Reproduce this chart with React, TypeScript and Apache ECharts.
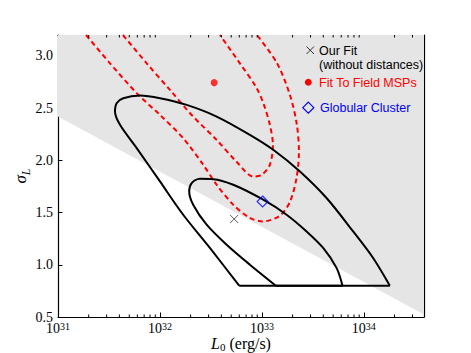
import React, { useEffect, useRef } from "react";
import * as echarts from "echarts";

// axis extents (log10 of L0 in erg/s, and sigma_L)
const X_MIN = 31;
const X_MAX = 34.59;
const Y_MIN = 0.5;
const Y_MAX = 3.2;
const xMajorExponents = [31, 32, 33, 34];
const yTickValues = [0.5, 1.0, 1.5, 2.0, 2.5, 3.0];

// shaded (excluded) region boundary
const shadeLogL = [31, 34.59];
const shadeSigma = [2.42, 0.525];

// black contours ("Our Fit")
const outerBlackLogL = [32.777, 32.49, 32.228, 32.0, 31.772, 31.608, 31.559, 31.575, 31.64, 31.804, 32.0, 32.262, 32.556, 32.882, 33.111, 33.373, 33.634, 33.895, 34.091, 34.255];
const outerBlackSigma = [0.8, 1.161, 1.479, 1.798, 2.117, 2.34, 2.467, 2.547, 2.595, 2.62, 2.595, 2.531, 2.419, 2.244, 2.101, 1.893, 1.639, 1.319, 1.065, 0.8];
const innerBlackLogL = [33.137, 32.882, 32.654, 32.458, 32.326, 32.287, 32.311, 32.392, 32.523, 32.719, 33.013, 33.242, 33.438, 33.601, 33.732, 33.791];
const innerBlackSigma = [0.8, 1.001, 1.192, 1.384, 1.575, 1.702, 1.782, 1.823, 1.82, 1.766, 1.623, 1.479, 1.319, 1.161, 0.97, 0.8];

// red dashed contours ("Fit To Field MSPs")
const outerRedLogL = [31.275, 31.51, 31.772, 32.0, 32.228, 32.425, 32.556, 32.719, 32.882, 33.01, 33.176, 33.275, 33.34, 33.363, 33.343, 33.275, 33.147, 32.951];
const outerRedSigma = [3.2, 2.929, 2.643, 2.435, 2.212, 1.957, 1.766, 1.575, 1.448, 1.415, 1.47, 1.603, 1.833, 2.081, 2.34, 2.626, 2.932, 3.2];
const innerRedLogL = [31.637, 31.87, 32.098, 32.326, 32.556, 32.752, 32.915, 33.0, 33.078, 33.108, 33.078, 33.02, 32.948, 32.784, 32.588];
const innerRedSigma = [3.2, 2.929, 2.674, 2.419, 2.196, 1.986, 1.845, 1.862, 1.957, 2.148, 2.34, 2.531, 2.693, 2.929, 3.2];

// best-fit points
const ourFitPoint = [32.728, 1.438];
const fieldMspPoint = [32.532, 2.744];
const globularPoint = [33.007, 1.606];

const zip = (a: number[], b: number[]) => a.map((v, i) => [v, b[i]]);

const minorTicks: number[] = [];
for (const n of xMajorExponents) {
  for (let k = 2; k <= 9; k++) {
    const v = n + Math.log10(k);
    if (v < X_MAX) minorTicks.push(v);
  }
}

const SERIF = '"Liberation Serif", "Times New Roman", serif';
const SANS = '"Liberation Sans", Arial, sans-serif';

export default function App() {
  const ref = useRef<HTMLDivElement>(null);
  useEffect(() => {
    if (!ref.current) return;
    const chart = echarts.init(ref.current, undefined, { renderer: "svg" });
    const axisLine = { show: true, lineStyle: { color: "#000", width: 1.2 } };
    const axisTick = { show: true, inside: true, length: 4.5, lineStyle: { color: "#000", width: 1 } };
    const option: any = {
      animation: false,
      backgroundColor: "#fff",
      grid: { left: 58, right: 47, top: 35, bottom: 36, containLabel: false, outerBoundsMode: "none" },
      xAxis: [
        {
          type: "value",
          position: "bottom",
          min: X_MIN,
          max: X_MAX,
          interval: 1,
          axisLine,
          axisTick,
          splitLine: { show: false },
          axisLabel: {
            margin: 4,
            color: "#000",
            formatter: (v: number) => (Number.isInteger(v) ? `{b|10}{s|${v}}` : ""),
            rich: {
              b: { fontFamily: SERIF, fontSize: 14, color: "#000", lineHeight: 14, verticalAlign: "bottom" },
              s: { fontFamily: SERIF, fontSize: 10, color: "#000", lineHeight: 10, verticalAlign: "top" },
            },
          },
          name: "{i|L}{sub|0}{r| (erg/s)}",
          nameLocation: "middle",
          nameGap: 18,
          nameMoveOverlap: false,
          nameTextStyle: {
            rich: {
              i: { fontFamily: SERIF, fontStyle: "italic", fontSize: 16, color: "#000", lineHeight: 17, verticalAlign: "top" },
              sub: { fontFamily: SERIF, fontSize: 11, color: "#000", lineHeight: 11, verticalAlign: "bottom" },
              r: { fontFamily: SERIF, fontSize: 16, color: "#000", lineHeight: 17, verticalAlign: "top" },
            },
          },
        },
        {
          type: "value",
          position: "top",
          min: X_MIN,
          max: X_MAX,
          interval: 1,
          axisLine,
          axisTick,
          axisLabel: { show: false },
          splitLine: { show: false },
        },
      ],
      yAxis: [
        {
          type: "value",
          position: "left",
          min: Y_MIN,
          max: Y_MAX,
          interval: 0.5,
          axisLine,
          axisTick,
          splitLine: { show: false },
          axisLabel: {
            margin: 5,
            color: "#000",
            fontFamily: SERIF,
            fontSize: 14,
            lineHeight: 8,
            formatter: (v: number) =>
              yTickValues.some((t) => Math.abs(t - v) < 1e-6) ? v.toFixed(1) : "",
          },
          name: "{i|σ}{sub|L}",
          nameLocation: "middle",
          nameGap: 26,
          nameRotate: 90,
          nameMoveOverlap: false,
          nameTextStyle: {
            rich: {
              i: { fontFamily: SERIF, fontStyle: "italic", fontSize: 17, color: "#000", lineHeight: 20, verticalAlign: "top" },
              sub: { fontFamily: SERIF, fontStyle: "italic", fontSize: 12, color: "#000", lineHeight: 12, verticalAlign: "bottom" },
            },
          },
        },
        {
          type: "value",
          position: "right",
          min: Y_MIN,
          max: Y_MAX,
          interval: 0.5,
          axisLine,
          axisTick,
          axisLabel: { show: false },
          splitLine: { show: false },
        },
      ],
      series: [
        {
          name: "excluded",
          type: "line",
          data: zip(shadeLogL, shadeSigma),
          showSymbol: false,
          silent: true,
          lineStyle: { width: 0, color: "#e5e5e5" },
          areaStyle: { color: "#e5e5e5", opacity: 1, origin: "end" },
          z: 1,
        },
        {
          type: "custom",
          silent: true,
          clip: false,
          data: minorTicks.map((v) => [v, Y_MIN]),
          encode: { x: 0, y: 1 },
          renderItem: (params: any, api: any) => {
            const v = api.value(0);
            const b = api.coord([v, Y_MIN]);
            const t = api.coord([v, Y_MAX]);
            return {
              type: "group",
              children: [
                { type: "line", shape: { x1: b[0], y1: b[1], x2: b[0], y2: b[1] - 2.5 }, style: { stroke: "#000", lineWidth: 1 } },
                { type: "line", shape: { x1: t[0], y1: t[1], x2: t[0], y2: t[1] + 2.5 }, style: { stroke: "#000", lineWidth: 1 } },
              ],
            };
          },
          z: 5,
        },
        {
          name: "outerRed",
          type: "line",
          data: zip(outerRedLogL, outerRedSigma),
          showSymbol: false,
          smooth: 0.3,
          lineStyle: { color: "#ff0000", width: 2, type: [5, 3.5] },
          z: 3,
        },
        {
          name: "innerRed",
          type: "line",
          data: zip(innerRedLogL, innerRedSigma),
          showSymbol: false,
          smooth: 0.3,
          lineStyle: { color: "#ff0000", width: 2, type: [5, 3.5] },
          z: 3,
        },
        {
          name: "outerBlack",
          type: "line",
          data: zip(outerBlackLogL, outerBlackSigma),
          showSymbol: false,
          smooth: 0.3,
          lineStyle: { color: "#000", width: 2 },
          z: 4,
        },
        {
          name: "outerBlackBase",
          type: "line",
          data: [
            [outerBlackLogL[0], outerBlackSigma[0]],
            [outerBlackLogL[outerBlackLogL.length - 1], outerBlackSigma[outerBlackSigma.length - 1]],
          ],
          showSymbol: false,
          lineStyle: { color: "#000", width: 2 },
          z: 4,
        },
        {
          name: "innerBlack",
          type: "line",
          data: zip(innerBlackLogL, innerBlackSigma),
          showSymbol: false,
          smooth: 0.3,
          lineStyle: { color: "#000", width: 2 },
          z: 4,
        },
        {
          name: "innerBlackBase",
          type: "line",
          data: [
            [innerBlackLogL[0], innerBlackSigma[0]],
            [innerBlackLogL[innerBlackLogL.length - 1], innerBlackSigma[innerBlackSigma.length - 1]],
          ],
          showSymbol: false,
          lineStyle: { color: "#000", width: 2 },
          z: 4,
        },
        {
          name: "Our Fit (without distances)",
          type: "scatter",
          data: [ourFitPoint],
          symbol: "path://M0 0L10 10M10 0L0 10",
          symbolSize: 8,
          itemStyle: { color: "rgba(0,0,0,0)", borderColor: "#333", borderWidth: 1 },
          z: 6,
        },
        {
          name: "Fit To Field MSPs",
          type: "scatter",
          data: [fieldMspPoint],
          symbol: "circle",
          symbolSize: 7,
          itemStyle: { color: "#ff0000" },
          z: 6,
        },
        {
          name: "Globular Cluster",
          type: "scatter",
          data: [globularPoint],
          symbol: "diamond",
          symbolSize: 11,
          itemStyle: { color: "rgba(0,0,0,0)", borderColor: "#0000ff", borderWidth: 1.2 },
          z: 6,
        },
      ],
      graphic: [
        { type: "line", shape: { x1: 306.5, y1: 46.5, x2: 314, y2: 54 }, style: { stroke: "#333", lineWidth: 1 }, z: 10 },
        { type: "line", shape: { x1: 314, y1: 46.5, x2: 306.5, y2: 54 }, style: { stroke: "#333", lineWidth: 1 }, z: 10 },
        { type: "text", x: 319, y: 50.5, style: { text: "Our Fit", fill: "#000", fontFamily: SANS, fontSize: 12.5, verticalAlign: "middle", align: "left" }, z: 10 },
        { type: "text", x: 319, y: 65, style: { text: "(without distances)", fill: "#000", fontFamily: SANS, fontSize: 12.5, verticalAlign: "middle", align: "left" }, z: 10 },
        { type: "circle", shape: { cx: 308.3, cy: 82.3, r: 3.4 }, style: { fill: "#ff0000" }, z: 10 },
        { type: "text", x: 319, y: 83.3, style: { text: "Fit To Field MSPs", fill: "#ff0000", fontFamily: SANS, fontSize: 12.5, verticalAlign: "middle", align: "left" }, z: 10 },
        {
          type: "polygon",
          shape: { points: [[308.3, 102.2], [313.8, 107.7], [308.3, 113.2], [302.8, 107.7]] },
          style: { fill: "none", stroke: "#0000ff", lineWidth: 1.2 },
          z: 10,
        },
        { type: "text", x: 320, y: 107.7, style: { text: "Globular Cluster", fill: "#0000ff", fontFamily: SANS, fontSize: 12.5, verticalAlign: "middle", align: "left" }, z: 10 },
      ],
    };
    chart.setOption(option);
    return () => chart.dispose();
  }, []);
  return <div ref={ref} style={{ position: "absolute", left: 0, top: 0, width: 471, height: 353 }} />;
}
